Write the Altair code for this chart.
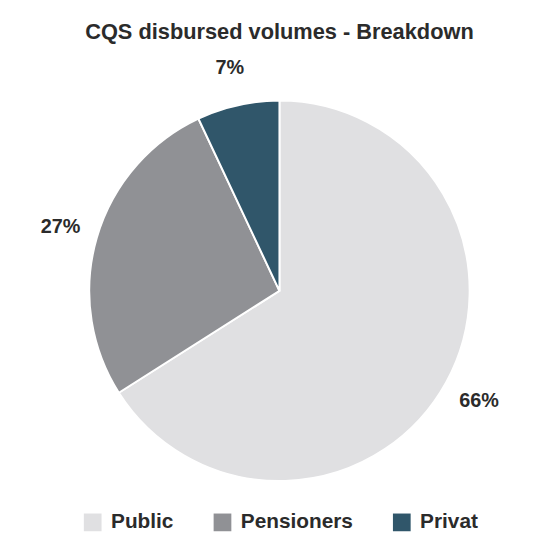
import altair as alt
import pandas as pd

categories = ["Public", "Pensioners", "Privat"]
values = [66, 27, 7]
labels = ["66%", "27%", "7%"]
colors = ["#e0e0e2", "#909195", "#30566a"]

df = pd.DataFrame({"category": categories, "value": values, "label": labels,
                   "order": list(range(len(categories)))})

base = alt.Chart(df).encode(
    theta=alt.Theta("value:Q", stack=True),
    order=alt.Order("order:Q"),
)

pie = base.mark_arc(radius=192, stroke="white", strokeWidth=2).encode(
    color=alt.Color("category:N",
                    scale=alt.Scale(domain=categories, range=colors),
                    sort=categories,
                    legend=alt.Legend(title=None, orient="none", direction="horizontal",
                                      legendX=63, legendY=423,
                                      symbolType="square", symbolSize=320,
                                      symbolStrokeWidth=0, labelFontSize=21,
                                      labelFont="Liberation Sans", labelFontWeight="bold",
                                      labelColor="#2b2b2b", columnPadding=38,
                                      labelOffset=8))
)

text = base.mark_text(radius=230, fontSize=20, font="Liberation Sans", fontWeight="bold",
                      color="#2b2b2b").encode(text="label:N")

chart = alt.layer(pie, text).properties(
    width=524, height=400,
    title=alt.Title("CQS disbursed volumes - Breakdown", fontSize=22,
                    font="Liberation Sans", fontWeight="bold", color="#2b2b2b", offset=15),
    padding={"left": 12, "right": 0, "top": 10, "bottom": 0},
).configure_view(stroke=None)

chart.save("out.html", embed_options={"renderer": "svg", "actions": False})
